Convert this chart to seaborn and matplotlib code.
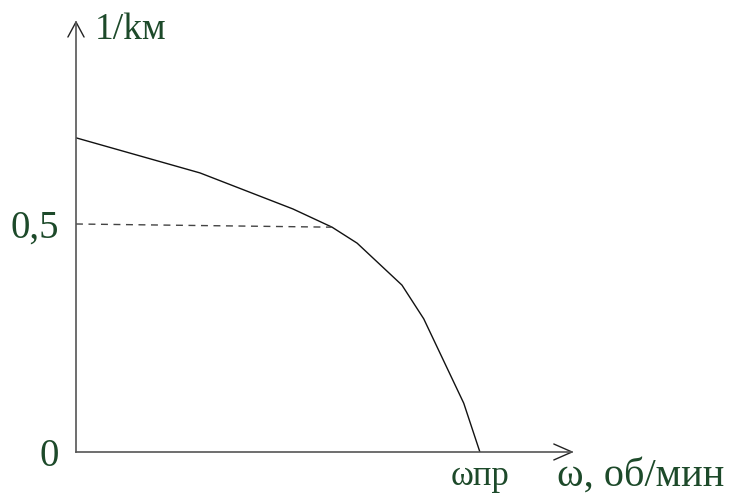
import matplotlib
matplotlib.use("Agg")
import matplotlib.pyplot as plt
import seaborn as sns
import pandas as pd

# Relative speed (omega / omega_pr) and the inverse overload factor 1/kм
omega = [0.0, 0.307, 0.537, 0.634, 0.696, 0.807, 0.861, 0.960, 1.0]
inv_k = [0.689, 0.612, 0.533, 0.493, 0.458, 0.366, 0.292, 0.107, 0.0]

y_ticks = [0.0, 0.5]
y_tick_labels = ["0", "0,5"]
x_ticks = [1.0]
x_tick_labels = ["ωпр"]

x_label = "ω, об/мин"
y_label = "1/kм"

sns.set_style("white")
plt.rcParams["font.family"] = ["Liberation Serif", "DejaVu Serif"]

text_color = "#1d4a2a"
axis_color = "#555555"

fig = plt.figure(figsize=(7.32, 4.93), dpi=100)
ax = fig.add_axes([0.1038, 0.0832, 0.6776, 0.8722])

df = pd.DataFrame({"omega": omega, "inv_k": inv_k})
sns.lineplot(data=df, x="omega", y="inv_k", ax=ax, color="#111111",
             linewidth=1.0, sort=False, estimator=None)

# dashed guide from the 0,5 level to the curve
ax.plot([0.0, omega[3]], [y_ticks[1], inv_k[3]], color="#444444",
        linewidth=1.0, linestyle=(0, (5, 4)))

xmax, ymax = 1.228, 0.943
ax.set_xlim(0, xmax)
ax.set_ylim(0, ymax)

for side in ("top", "right"):
    ax.spines[side].set_visible(False)
for side in ("left", "bottom"):
    ax.spines[side].set_color(axis_color)
    ax.spines[side].set_linewidth(1.2)

# open arrowheads on both axes
ax.plot([-0.02, 0, 0.02], [ymax - 0.033, ymax, ymax - 0.033],
        color="#222222", linewidth=1.0, clip_on=False)
ax.plot([xmax - 0.045, xmax, xmax - 0.045], [0.0175, 0, -0.0175],
        color="#222222", linewidth=1.0, clip_on=False)

ax.set_yticks(y_ticks)
ax.set_yticklabels(y_tick_labels)
ax.set_xticks(x_ticks)
ax.set_xticklabels(x_tick_labels)
ax.tick_params(axis="y", length=0, pad=12, labelsize=28, labelcolor=text_color)
ax.tick_params(axis="x", length=0, pad=6, labelsize=25, labelcolor=text_color)
ax.set_xlabel("")
ax.set_ylabel("")

ax.text(0.047, ymax - 0.018, y_label, fontsize=27, color=text_color,
        ha="left", va="center", clip_on=False)
ax.text(xmax - 0.037, -0.012, x_label, fontsize=29, color=text_color,
        ha="left", va="top", clip_on=False)

fig.savefig("out.png", dpi=100)
